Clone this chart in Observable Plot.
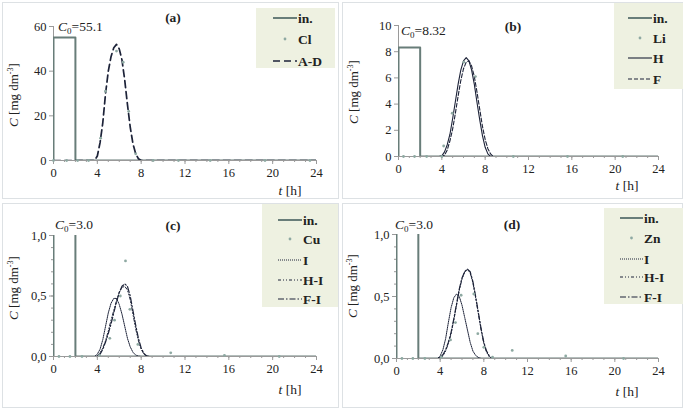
<!DOCTYPE html>
<html><head><meta charset="utf-8">
<script src="https://cdn.jsdelivr.net/npm/d3@7"></script>
<script src="https://cdn.jsdelivr.net/npm/@observablehq/plot@0.6"></script>
<style>
html,body{margin:0;padding:0;background:#fff;}
#wrap{position:relative;width:685px;height:410px;overflow:hidden;font-family:"Liberation Serif","Times New Roman",serif;}
#wrap svg, #wrap svg text{font-family:"Liberation Serif","Times New Roman",serif !important;}
.pan{position:absolute;}
.box{position:absolute;border:1px solid #dde1e4;box-sizing:border-box;}
#ov{position:absolute;left:0;top:0;}
</style></head><body>
<div id="wrap"></div>
<script>
// ---------- data ----------
const xTicks = [0, 4, 8, 12, 16, 20, 24];
const xMinor = [0,1,2,3,4,5,6,7,8,9,10,11,12,13,14,15,16,17,18,19,20,21,22,23,24];

// panel (a) Cl
const inA_t = [0, 0, 2, 2, 24];
const inA_c = [0, 55.1, 55.1, 0, 0];
const adA_t = [0, 3.75, 4, 4.25, 4.5, 4.75, 5, 5.25, 5.5, 5.75, 6, 6.25, 6.5, 6.75, 7, 7.25, 7.5, 7.75, 8, 24];
const adA_c = [0, 0, 2, 8, 17, 30, 40, 46.5, 50.5, 52, 50, 45, 36, 25, 15, 7.5, 3, 0.8, 0, 0];
const clA_t = [0, 1.2, 2.2, 3.2, 4.3, 4.74, 5.75, 6.36, 6.86, 7.5, 9.1, 11.4, 14.3, 19.3, 23.4];
const clA_c = [0, 0, 0, 0, 10, 31, 49, 44, 22, 3, 0, 0, 0, 0, 0];
const yTicksA = [0, 20, 40, 60];

// panel (b) Li
const inB_t = [0, 0, 2, 2, 24];
const inB_c = [0, 8.32, 8.32, 0, 0];
const hB_t = [0, 3.75, 4, 4.25, 4.5, 4.75, 5, 5.25, 5.5, 5.75, 6, 6.25, 6.5, 6.75, 7, 7.25, 7.5, 7.75, 8, 8.25, 8.5, 24];
const hB_c = [0, 0, 0.05, 0.35, 0.9, 1.7, 2.9, 4.2, 5.5, 6.6, 7.3, 7.55, 7.3, 6.6, 5.5, 4.1, 2.8, 1.6, 0.7, 0.2, 0, 0];
const fB_t = [0, 4, 4.25, 4.5, 4.75, 5, 5.25, 5.5, 5.75, 6, 6.25, 6.5, 6.75, 7, 7.25, 7.5, 7.75, 8, 8.25, 8.5, 8.75, 24];
const fB_c = [0, 0, 0.1, 0.5, 1.2, 2.1, 3.3, 4.6, 5.8, 6.7, 7.2, 7.3, 6.9, 6.1, 4.9, 3.6, 2.3, 1.3, 0.6, 0.2, 0, 0];
const liB_t = [0.46, 1.48, 2.6, 4.0, 4.17, 4.96, 6.03, 7.1, 10.6, 15.6, 20.7];
const liB_c = [0, 0, 0, 0, 0.8, 3.3, 7.2, 6.1, 0, 0, 0];
const yTicksB = [0, 2, 4, 6, 8, 10];

// panel (c) Cu
const inC_t = [0, 0, 2, 2, 24];
const inC_c = [0, 3.0, 3.0, 0, 0];
const iC_t = [0, 3.75, 4, 4.25, 4.5, 4.75, 5, 5.25, 5.5, 5.75, 6, 6.25, 6.5, 6.75, 7, 7.25, 7.5, 7.75, 8, 24];
const iC_c = [0, 0, 0.02, 0.06, 0.14, 0.25, 0.36, 0.44, 0.48, 0.48, 0.43, 0.35, 0.25, 0.15, 0.08, 0.035, 0.012, 0.003, 0, 0];
const hiC_t = [0, 3.9, 4.25, 4.5, 4.75, 5, 5.25, 5.5, 5.75, 6, 6.25, 6.5, 6.75, 7, 7.25, 7.5, 7.75, 8, 8.25, 8.5, 24];
const hiC_c = [0, 0, 0.03, 0.07, 0.13, 0.21, 0.30, 0.38, 0.46, 0.53, 0.57, 0.58, 0.55, 0.47, 0.35, 0.23, 0.13, 0.06, 0.02, 0, 0];
const fiC_t = [0, 4, 4.25, 4.5, 4.75, 5, 5.25, 5.5, 5.75, 6, 6.25, 6.5, 6.75, 7, 7.25, 7.5, 7.75, 8, 8.25, 8.5, 8.75, 24];
const fiC_c = [0, 0, 0.02, 0.06, 0.12, 0.19, 0.27, 0.36, 0.45, 0.53, 0.58, 0.60, 0.58, 0.50, 0.38, 0.26, 0.15, 0.07, 0.025, 0.005, 0, 0];
const cuC_t = [0.5, 1.5, 2.6, 4.2, 5.14, 5.57, 6.1, 6.57, 6.97, 7.7, 10.7, 15.6, 20.6];
const cuC_c = [0, 0, 0, 0.01, 0.15, 0.30, 0.50, 0.79, 0.39, 0.10, 0.03, 0.01, 0];
const yTicksC = [0, 0.5, 1.0];
const yMinorC = [0, 0.1, 0.2, 0.3, 0.4, 0.5, 0.6, 0.7, 0.8, 0.9, 1.0];

// panel (d) Zn
const inD_t = [0, 0, 2, 2, 24];
const inD_c = [0, 3.0, 3.0, 0, 0];
const iD_t = [0, 3.75, 4, 4.25, 4.5, 4.75, 5, 5.25, 5.5, 5.75, 6, 6.25, 6.5, 6.75, 7, 7.25, 7.5, 7.75, 24];
const iD_c = [0, 0, 0.02, 0.07, 0.16, 0.29, 0.41, 0.49, 0.52, 0.50, 0.43, 0.33, 0.23, 0.13, 0.06, 0.025, 0.008, 0, 0];
const hiD_t = [0, 3.8, 4, 4.25, 4.5, 4.75, 5, 5.25, 5.5, 5.75, 6, 6.25, 6.5, 6.75, 7, 7.25, 7.5, 7.75, 8, 8.25, 8.5, 8.75, 24];
const hiD_c = [0, 0, 0.005, 0.02, 0.06, 0.12, 0.20, 0.31, 0.43, 0.55, 0.64, 0.70, 0.72, 0.69, 0.61, 0.49, 0.36, 0.23, 0.12, 0.05, 0.015, 0, 0];
const fiD_t = [0, 3.75, 4, 4.25, 4.5, 4.75, 5, 5.25, 5.5, 5.75, 6, 6.25, 6.5, 6.75, 7, 7.25, 7.5, 7.75, 8, 8.25, 8.5, 8.75, 24];
const fiD_c = [0, 0, 0.01, 0.03, 0.07, 0.13, 0.21, 0.32, 0.44, 0.56, 0.65, 0.70, 0.72, 0.70, 0.62, 0.50, 0.37, 0.24, 0.13, 0.06, 0.02, 0, 0];
const znD_t = [0.5, 1.5, 2.6, 4.1, 4.95, 5.4, 5.92, 7.08, 7.45, 8.0, 8.8, 10.6, 15.5, 20.8];
const znD_c = [0, 0, 0, 0.01, 0.15, 0.29, 0.51, 0.52, 0.20, 0.09, 0.01, 0.065, 0.02, 0];
const yTicksD = [0, 0.5, 1.0];

// ---------- styles ----------
const FONT = "'Liberation Serif', 'Times New Roman', serif";
const INLET = "#687d79", DOT = "#8ea9a2", CURVE = "#1c2238", AXIS = "#9a9a9a";
const zip = (t, c) => t.map((v, i) => ({t: v, c: c[i]}));

function panel(o) {
  const marks = [
    Plot.ruleX([0], {stroke: AXIS}),
    Plot.axisX({ticks: xMinor, tickSize: 2, tickFormat: () => "", stroke: AXIS, label: null}),
    Plot.axisX({ticks: xTicks, tickSize: 4, tickPadding: 4, stroke: AXIS, label: null, fill: "#222"}),
    Plot.axisY({ticks: o.yTicks, tickSize: 4, tickPadding: 3, tickFormat: o.yFmt, stroke: AXIS, label: null, fill: "#222"}),
  ];
  if (o.yMinor) marks.push(Plot.axisY({ticks: o.yMinor, tickSize: 2, tickFormat: () => "", stroke: AXIS, label: null}));
  marks.push(Plot.ruleY([0], {stroke: AXIS}));
  marks.push(Plot.line(o.inlet, {x: "t", y: "c", stroke: INLET, strokeWidth: 2, clip: true}));
  for (const s of o.curves) marks.push(Plot.line(s.data, {x: "t", y: "c", stroke: CURVE, strokeWidth: s.w, strokeDasharray: s.dash, clip: true}));
  marks.push(Plot.dot(o.dots, {x: "t", y: "c", r: 1.4, fill: DOT, stroke: "none"}));
  return Plot.plot({
    width: o.w, height: o.h,
    marginLeft: o.ml, marginRight: o.mr, marginTop: o.mt, marginBottom: o.mb,
    x: {domain: [0, 24]}, y: {domain: [0, o.yMax]},
    style: {fontFamily: FONT, fontSize: "12.5px", background: "transparent", color: "#222"},
    marks
  });
}
const comma = d => d3.format(".1f")(d).replace(".", ",");

const panels = [
  {left: 0, top: 0, w: 338, h: 200, ml: 53, mr: 22, mt: 26, mb: 40, yMax: 60, yTicks: yTicksA, yFmt: d => d,
   inlet: zip(inA_t, inA_c), dots: zip(clA_t, clA_c),
   curves: [{data: zip(adA_t, adA_c), w: 1.7, dash: "7,4"}]},
  {left: 340, top: 0, w: 345, h: 200, ml: 58, mr: 27, mt: 25, mb: 44, yMax: 10, yTicks: yTicksB, yFmt: d => d,
   inlet: zip(inB_t, inB_c), dots: zip(liB_t, liB_c),
   curves: [{data: zip(hB_t, hB_c), w: 1.1, dash: null}, {data: zip(fB_t, fB_c), w: 1.1, dash: "4,2"}]},
  {left: 0, top: 200, w: 338, h: 210, ml: 53, mr: 22, mt: 35, mb: 54, yMax: 1, yTicks: yTicksC, yFmt: comma, yMinor: yMinorC,
   inlet: zip(inC_t, inC_c), dots: zip(cuC_t, cuC_c),
   curves: [{data: zip(iC_t, iC_c), w: 1, dash: "1,1"}, {data: zip(hiC_t, hiC_c), w: 1, dash: "3,2,1,2,1,2"}, {data: zip(fiC_t, fiC_c), w: 1.2, dash: "6,2,1.5,2"}]},
  {left: 340, top: 200, w: 345, h: 210, ml: 56, mr: 27, mt: 34, mb: 52, yMax: 1, yTicks: yTicksD, yFmt: comma, yMinor: yMinorC,
   inlet: zip(inD_t, inD_c), dots: zip(znD_t, znD_c),
   curves: [{data: zip(iD_t, iD_c), w: 1, dash: "1,1"}, {data: zip(hiD_t, hiD_c), w: 1, dash: "3,2,1,2,1,2"}, {data: zip(fiD_t, fiD_c), w: 1.2, dash: "6,2,1.5,2"}]},
];

const wrap = document.getElementById("wrap");
for (const b of [[2,2,337,197],[342,2,341,197],[2,203,337,205],[342,203,341,205]]) {
  const d = document.createElement("div"); d.className = "box";
  d.style.left = b[0] + "px"; d.style.top = b[1] + "px"; d.style.width = b[2] + "px"; d.style.height = b[3] + "px";
  wrap.appendChild(d);
}
for (const p of panels) {
  const el = panel(p);
  const d = document.createElement("div"); d.className = "pan";
  d.style.left = p.left + "px"; d.style.top = p.top + "px";
  d.appendChild(el); wrap.appendChild(d);
}

// ---------- overlay texts & legends ----------
const NS = "http://www.w3.org/2000/svg";
const ov = document.createElementNS(NS, "svg");
ov.setAttribute("id", "ov"); ov.setAttribute("width", 685); ov.setAttribute("height", 410);
ov.setAttribute("font-family", FONT);
wrap.appendChild(ov);
function el(tag, attrs, parent = ov) {
  const e = document.createElementNS(NS, tag);
  for (const k in attrs) e.setAttribute(k, attrs[k]);
  parent.appendChild(e); return e;
}
function rich(x, y, parts, attrs = {}) {
  const t = el("text", Object.assign({x, y, "font-size": 12.5, fill: "#222"}, attrs));
  for (const p of parts) {
    const s = el("tspan", p.a || {}, t); s.textContent = p.s;
  }
  return t;
}
const panelLabels = [["(a)", 173, 22], ["(b)", 513, 31], ["(c)", 173, 230], ["(d)", 512, 229]];
for (const [s, x, y] of panelLabels) { const t = el("text", {x, y, "text-anchor": "middle", "font-size": 13.5, "font-weight": "bold", fill: "#222"}); t.textContent = s; }

const c0 = [["55.1", 58, 31], ["8.32", 401, 35], ["3.0", 55, 229], ["3.0", 395, 229]];
for (const [v, x, y] of c0) rich(x, y, [{s: "C", a: {"font-style": "italic"}}, {s: "0", a: {"font-size": 9, dy: 3}}, {s: "=" + v, a: {dy: -3}}], {"font-size": 13.5});

const ylab = [[14, 95], [354, 92], [14, 288], [353, 286]];
for (const [x, y] of ylab) rich(0, 0, [{s: "C", a: {"font-style": "italic"}}, {s: " [mg dm"}, {s: "-3", a: {"font-size": 8, dy: -5}}, {s: "]", a: {dy: 5}}],
  {"text-anchor": "middle", transform: `translate(${x},${y}) rotate(-90)`, dy: 4, "font-size": 13});

const tlab = [[290, 195], [627, 190], [290, 394], [627, 396]];
for (const [x, y] of tlab) rich(x, y, [{s: "t", a: {"font-style": "italic"}}, {s: " [h]"}], {"text-anchor": "middle", "font-size": 13.5});

// legends
const legends = [
  {box: [256, 8, 79, 60], x1: 273, x2: 297, items: [["in.", "inlet", 18], ["Cl", "dot", 39], ["A-D", "7,4", 61, 1.7]]},
  {box: [614, 3, 69, 86], x1: 628, x2: 652, items: [["in.", "inlet", 18], ["Li", "dot", 38], ["H", "", 58, 1.1], ["F", "4,2", 79, 1.1]]},
  {box: [262, 204, 76, 103], x1: 278, x2: 302, items: [["in.", "inlet", 220], ["Cu", "dot", 239], ["I", "1,1", 260, 1], ["H-I", "3,2,1,2,1,2", 280, 1], ["F-I", "6,2,1.5,2", 299, 1.2]]},
  {box: [604, 208, 79, 96], x1: 620, x2: 643, items: [["in.", "inlet", 218], ["Zn", "dot", 238], ["I", "1,1", 259, 1], ["H-I", "3,2,1,2,1,2", 277, 1], ["F-I", "6,2,1.5,2", 297, 1.2]]},
];
for (const L of legends) {
  el("rect", {x: L.box[0], y: L.box[1], width: L.box[2], height: L.box[3], fill: "#eef1e1"});
  for (const [lab, kind, cy, w] of L.items) {
    if (kind === "inlet") el("line", {x1: L.x1, x2: L.x2, y1: cy, y2: cy, stroke: INLET, "stroke-width": 2});
    else if (kind === "dot") el("circle", {cx: (L.x1 + L.x2) / 2, cy, r: 1.4, fill: DOT});
    else el("line", {x1: L.x1, x2: L.x2, y1: cy, y2: cy, stroke: CURVE, "stroke-width": w, "stroke-dasharray": kind || "none"});
    const t = el("text", {x: L.x2 + 1, y: cy + 4.5, "font-size": 13.5, "font-weight": "bold", fill: "#222"}); t.textContent = lab;
  }
}
</script>
</body></html>
